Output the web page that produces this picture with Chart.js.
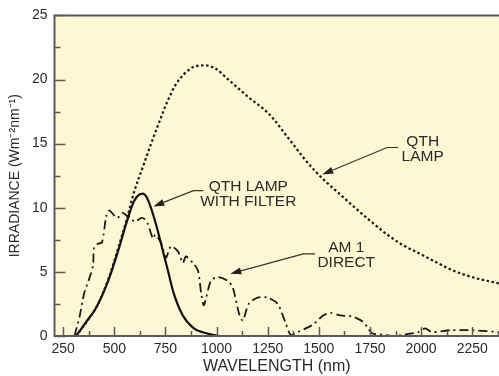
<!DOCTYPE html>
<html>
<head>
<meta charset="utf-8">
<script src="https://cdn.jsdelivr.net/npm/chart.js@4/dist/chart.umd.min.js"></script>
<style>
  html, body { margin: 0; padding: 0; background: #fff; }
  #wrap { width: 499px; height: 376px; }
</style>
</head>
<body>
<div id="wrap"><canvas id="irrChart" width="499" height="376"></canvas></div>
<script>
/******************************************************************
DATA
******************************************************************/

var xTicks = [250, 500, 750, 1000, 1250, 1500, 1750, 2000, 2250];
var xMinor = [375, 625, 875, 1125, 1375, 1625, 1875, 2125, 2375];
var yMinor = [2.5, 7.5, 12.5, 17.5, 22.5];

// QTH lamp (dotted)
var qthNm  = [313, 360, 411, 470, 518, 557, 600, 640, 680, 720, 760, 800, 840, 890, 945, 1000, 1050, 1100, 1165, 1230, 1280, 1328, 1377, 1425, 1474, 1523, 1600, 1670, 1750, 1835, 1910, 1996, 2080, 2157, 2270, 2382];
var qthVal = [0, 1.0, 2.2, 4.4, 6.8, 8.9, 11.4, 13.2, 15.0, 16.7, 18.3, 19.6, 20.4, 21.0, 21.1, 20.8, 20.1, 19.4, 18.5, 17.7, 16.9, 15.9, 14.9, 13.9, 13.0, 12.2, 11.1, 10.1, 9.0, 7.9, 7.1, 6.4, 5.7, 5.1, 4.5, 4.1];

// QTH lamp with filter (solid)
var filterNm  = [313, 360, 411, 470, 518, 557, 596, 620, 640, 655, 670, 704, 738, 762, 791, 835, 889, 940, 1010];
var filterVal = [0, 1.05, 2.2, 4.3, 6.6, 8.7, 10.5, 11.0, 11.1, 10.9, 10.4, 8.7, 6.6, 5.1, 3.3, 1.6, 0.6, 0.25, 0];

// AM 1 direct (dash-dot)
var am1Nm  = [305, 330, 352, 380, 396, 401, 420, 440, 460, 475, 494, 515, 540, 560, 582, 600, 630, 650, 665, 689, 700, 728, 752, 777, 811, 835, 850, 884, 909, 925, 938, 972, 1006, 1055, 1079, 1109, 1128, 1157, 1200, 1250, 1299, 1338, 1362, 1409, 1473, 1521, 1556, 1605, 1668, 1717, 1741, 1761, 1815, 1873, 1932, 1986, 2020, 2054, 2142, 2254, 2382];
var am1Val = [0, 1.5, 3.3, 4.6, 5.5, 6.9, 7.2, 7.3, 9.3, 9.8, 9.5, 9.2, 9.6, 9.4, 9.2, 8.9, 9.2, 9.1, 8.7, 7.6, 7.9, 7.3, 6.1, 7.0, 6.6, 5.7, 6.2, 5.7, 5.1, 3.3, 2.4, 4.3, 4.6, 4.3, 3.8, 1.8, 1.2, 2.5, 3.0, 3.0, 2.5, 1.0, 0.1, 0.4, 0.9, 1.6, 1.8, 1.6, 1.5, 1.1, 0.6, 0.2, 0.1, 0, 0.15, 0.3, 0.6, 0.3, 0.45, 0.45, 0.3];

// callouts: text centre, elbow start, elbow end, arrow tip (data units)
var notes = [
  { lines: ['QTH', 'LAMP'],            text: [2008, 14.6], elbow: [[1888, 14.7], [1834, 14.7]], tip: [1517, 12.6] },
  { lines: ['QTH LAMP', 'WITH FILTER'], text: [1155, 11.07], elbow: [[935, 11.34], [887, 11.34]], tip: [691, 10.1] },
  { lines: ['AM 1', 'DIRECT'],         text: [1634, 6.29], elbow: [[1482, 6.4], [1424, 6.4]], tip: [1067, 4.86] }
];

function toPoints(xs, ys) {
  var pts = [];
  for (var i = 0; i < xs.length; i++) {
    pts.push({ x: xs[i], y: ys[i] });
  }
  return pts;
}

/******************************************************************
PLOT DECORATION PLUGIN
******************************************************************/

var frameColor = '#5a5a5a';
var textColor = '#2a2a2a';
var fontFamily = '"Liberation Sans", Arial, sans-serif';

var decorPlugin = {
  id: 'decor',
  beforeDraw: function (chart) {
    var ctx = chart.ctx, a = chart.chartArea;
    ctx.save();
    ctx.fillStyle = '#fdf8d3';
    ctx.fillRect(a.left, a.top, a.right - a.left, a.bottom - a.top);
    ctx.restore();
  },
  afterDatasetsDraw: function (chart) {
    var ctx = chart.ctx, a = chart.chartArea;
    var xs = chart.scales.x, ys = chart.scales.y;
    ctx.save();

    // inward tick marks
    ctx.strokeStyle = frameColor;
    ctx.lineWidth = 1.5;
    ctx.beginPath();
    xTicks.forEach(function (v) {
      var px = Math.round(xs.getPixelForValue(v)) + 0.5;
      ctx.moveTo(px, a.bottom); ctx.lineTo(px, a.bottom - 9);
    });
    xMinor.forEach(function (v) {
      var px = Math.round(xs.getPixelForValue(v)) + 0.5;
      ctx.moveTo(px, a.bottom); ctx.lineTo(px, a.bottom - 5);
    });
    ys.ticks.forEach(function (t) {
      var py = Math.round(ys.getPixelForValue(t.value)) + 0.5;
      ctx.moveTo(a.left, py); ctx.lineTo(a.left + 11, py);
    });
    yMinor.forEach(function (v) {
      var py = Math.round(ys.getPixelForValue(v)) + 0.5;
      ctx.moveTo(a.left, py); ctx.lineTo(a.left + 6, py);
    });
    ctx.stroke();

    // frame: top, left, bottom
    ctx.lineWidth = 2;
    ctx.beginPath();
    ctx.moveTo(a.right, a.top); ctx.lineTo(a.left, a.top);
    ctx.lineTo(a.left, a.bottom); ctx.lineTo(a.right, a.bottom);
    ctx.stroke();

    // callouts
    ctx.font = '15.5px ' + fontFamily;
    ctx.textAlign = 'center';
    ctx.textBaseline = 'middle';
    notes.forEach(function (n) {
      var tx = xs.getPixelForValue(n.text[0]), ty = ys.getPixelForValue(n.text[1]);
      ctx.fillStyle = textColor;
      ctx.fillText(n.lines[0], tx, ty - 7.5);
      ctx.fillText(n.lines[1], tx, ty + 7.5);

      var e0x = xs.getPixelForValue(n.elbow[0][0]), e0y = ys.getPixelForValue(n.elbow[0][1]);
      var e1x = xs.getPixelForValue(n.elbow[1][0]), e1y = ys.getPixelForValue(n.elbow[1][1]);
      var px = xs.getPixelForValue(n.tip[0]), py = ys.getPixelForValue(n.tip[1]);
      var ang = Math.atan2(py - e1y, px - e1x);
      var hl = 11, hw = 3.5;
      var bx = px - hl * Math.cos(ang), by = py - hl * Math.sin(ang);

      ctx.strokeStyle = '#333';
      ctx.lineWidth = 1.2;
      ctx.beginPath();
      ctx.moveTo(e0x, e0y); ctx.lineTo(e1x, e1y); ctx.lineTo(bx, by);
      ctx.stroke();

      ctx.fillStyle = '#222';
      ctx.beginPath();
      ctx.moveTo(px, py);
      ctx.lineTo(bx + hw * Math.sin(ang), by - hw * Math.cos(ang));
      ctx.lineTo(bx - hw * Math.sin(ang), by + hw * Math.cos(ang));
      ctx.closePath();
      ctx.fill();
    });
    ctx.restore();
  }
};

/******************************************************************
CHART
******************************************************************/

var tickFont = { family: fontFamily, size: 14 };

new Chart(document.getElementById('irrChart').getContext('2d'), {
  type: 'line',
  data: {
    datasets: [{
      label: 'QTH LAMP',
      data: toPoints(qthNm, qthVal),
      borderColor: '#1a1a1a',
      borderWidth: 2.2,
      borderDash: [2.5, 2.5],
      cubicInterpolationMode: 'monotone'
    }, {
      label: 'QTH LAMP WITH FILTER',
      data: toPoints(filterNm, filterVal),
      borderColor: '#111',
      borderWidth: 2.2,
      cubicInterpolationMode: 'monotone'
    }, {
      label: 'AM 1 DIRECT',
      data: toPoints(am1Nm, am1Val),
      borderColor: '#1a1a1a',
      borderWidth: 1.8,
      borderDash: [9, 4, 2, 4],
      tension: 0.25
    }]
  },
  options: {
    responsive: false,
    animation: false,
    parsing: false,
    elements: { point: { radius: 0 } },
    layout: { padding: { top: 12, right: 0, left: 0, bottom: 0 } },
    plugins: {
      legend: { display: false },
      tooltip: { enabled: false }
    },
    scales: {
      x: {
        type: 'linear',
        min: 207.5,
        max: 2381,
        afterFit: function (s) { s.height = 40; },
        afterBuildTicks: function (s) {
          s.ticks = xTicks.map(function (v) { return { value: v }; });
        },
        grid: { display: false, drawTicks: false },
        border: { display: false },
        ticks: {
          color: textColor, font: tickFont, padding: 5, maxRotation: 0,
          callback: function (v) { return String(v); }
        },
        title: {
          display: true,
          text: 'WAVELENGTH (nm)',
          color: textColor,
          font: { family: fontFamily, size: 16 },
          padding: { top: 0, bottom: 0 }
        }
      },
      y: {
        min: 0,
        max: 25,
        afterFit: function (s) { s.width = 54.5; },
        grid: { display: false, drawTicks: false },
        border: { display: false },
        ticks: { stepSize: 5, color: textColor, font: tickFont, padding: 7 },
        title: {
          display: true,
          text: 'IRRADIANCE (Wm⁻²nm⁻¹)',
          color: textColor,
          font: { family: fontFamily, size: 14 },
          padding: { top: 7, bottom: 0 }
        }
      }
    }
  },
  plugins: [decorPlugin]
});
</script>
</body>
</html>
